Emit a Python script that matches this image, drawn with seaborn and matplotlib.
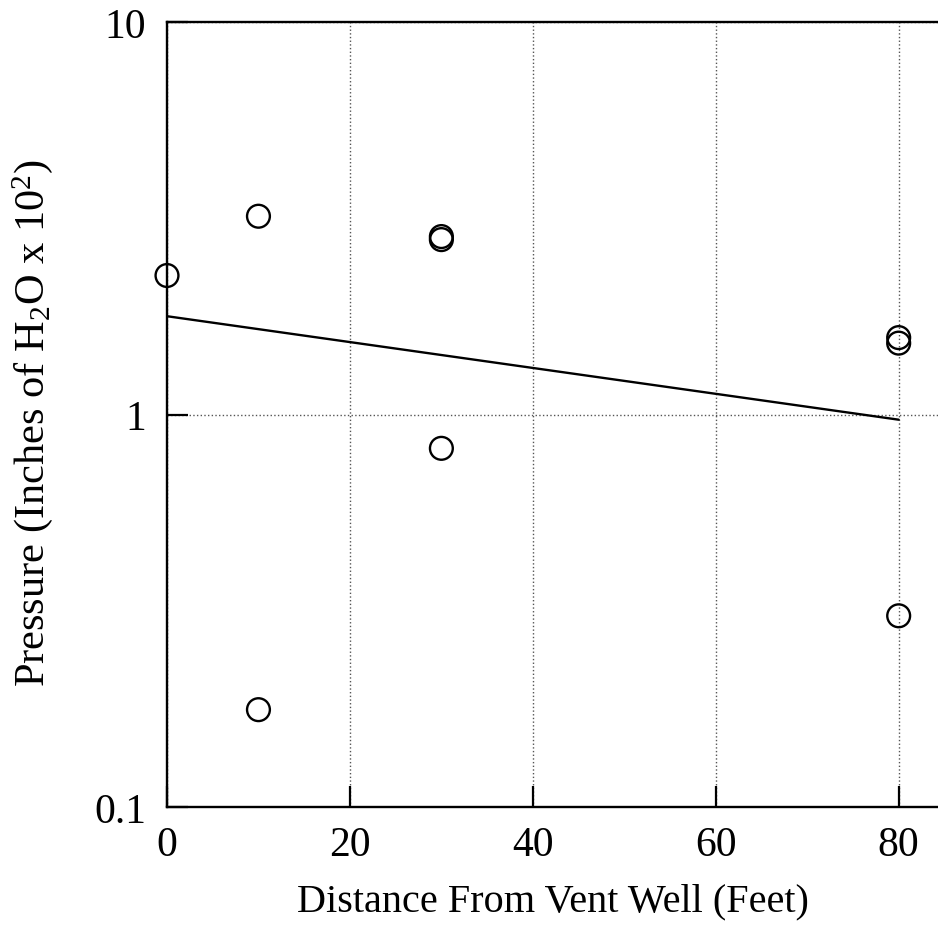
import matplotlib
matplotlib.use('Agg')
import matplotlib.pyplot as plt
import seaborn as sns
import pandas as pd

# Measured pressures vs distance from the vent well
distance = [0, 10, 10, 30, 30, 30, 80, 80, 80]
pressure = [2.26, 3.20, 0.177, 2.79, 2.84, 0.82, 1.57, 1.52, 0.307]

# Fitted trend line end points
fit_distance = [0, 80]
fit_pressure = [1.78, 0.97]

x_ticks = [0, 20, 40, 60, 80]
y_ticks = [0.1, 1, 10]
y_tick_labels = ['0.1', '1', '10']

df = pd.DataFrame({'Distance': distance, 'Pressure': pressure})
fit = pd.DataFrame({'Distance': fit_distance, 'Pressure': fit_pressure})

sns.set_theme(style='white')
plt.rcParams['font.family'] = ['Liberation Serif', 'DejaVu Serif']
plt.rcParams['mathtext.fontset'] = 'custom'
plt.rcParams['mathtext.rm'] = 'Liberation Serif'
plt.rcParams['mathtext.it'] = 'Liberation Serif:italic'
plt.rcParams['text.color'] = 'black'
plt.rcParams['axes.labelcolor'] = 'black'
plt.rcParams['xtick.color'] = 'black'
plt.rcParams['ytick.color'] = 'black'
plt.rcParams['xtick.bottom'] = True
plt.rcParams['ytick.left'] = True

fig = plt.figure(figsize=(9.38, 9.28), dpi=100)
ax = fig.add_axes([167 / 938, 1 - 808 / 928, (938 - 167) / 938, (808 - 23) / 928])

sns.lineplot(data=fit, x='Distance', y='Pressure', ax=ax, color='black', linewidth=1.7)
sns.scatterplot(data=df, x='Distance', y='Pressure', ax=ax, marker='o', s=270,
                facecolors='none', edgecolor='black', linewidth=1.7, zorder=3,
                clip_on=False)

ax.set_yscale('log')
ax.set_xlim(0, 84.3)
ax.set_ylim(0.1, 10)
ax.set_xticks(x_ticks)
ax.set_xticklabels([str(t) for t in x_ticks])
ax.set_yticks(y_ticks)
ax.set_yticklabels(y_tick_labels)
ax.minorticks_off()

ax.grid(True, which='major', linestyle=':', color='#555555', linewidth=1.0)
ax.tick_params(bottom=True, left=True, direction='in', length=15, width=1.6,
               labelsize=30, color='black', labelcolor='black')
ax.tick_params(axis='x', pad=13)
ax.tick_params(axis='y', pad=15)

for side in ['left', 'top', 'bottom']:
    ax.spines[side].set_linewidth(1.7)
    ax.spines[side].set_color('black')
ax.spines['right'].set_visible(False)

ax.set_xlabel('Distance From Vent Well (Feet)', fontsize=29, color='black')
ax.set_ylabel('Pressure (Inches of H$_2$O x 10$^2$)', fontsize=30.5, color='black')
ax.xaxis.set_label_coords(0.5, -0.096)
ax.yaxis.set_label_coords(-0.145, 0.49)

fig.savefig('out.png', dpi=100, facecolor='white')
